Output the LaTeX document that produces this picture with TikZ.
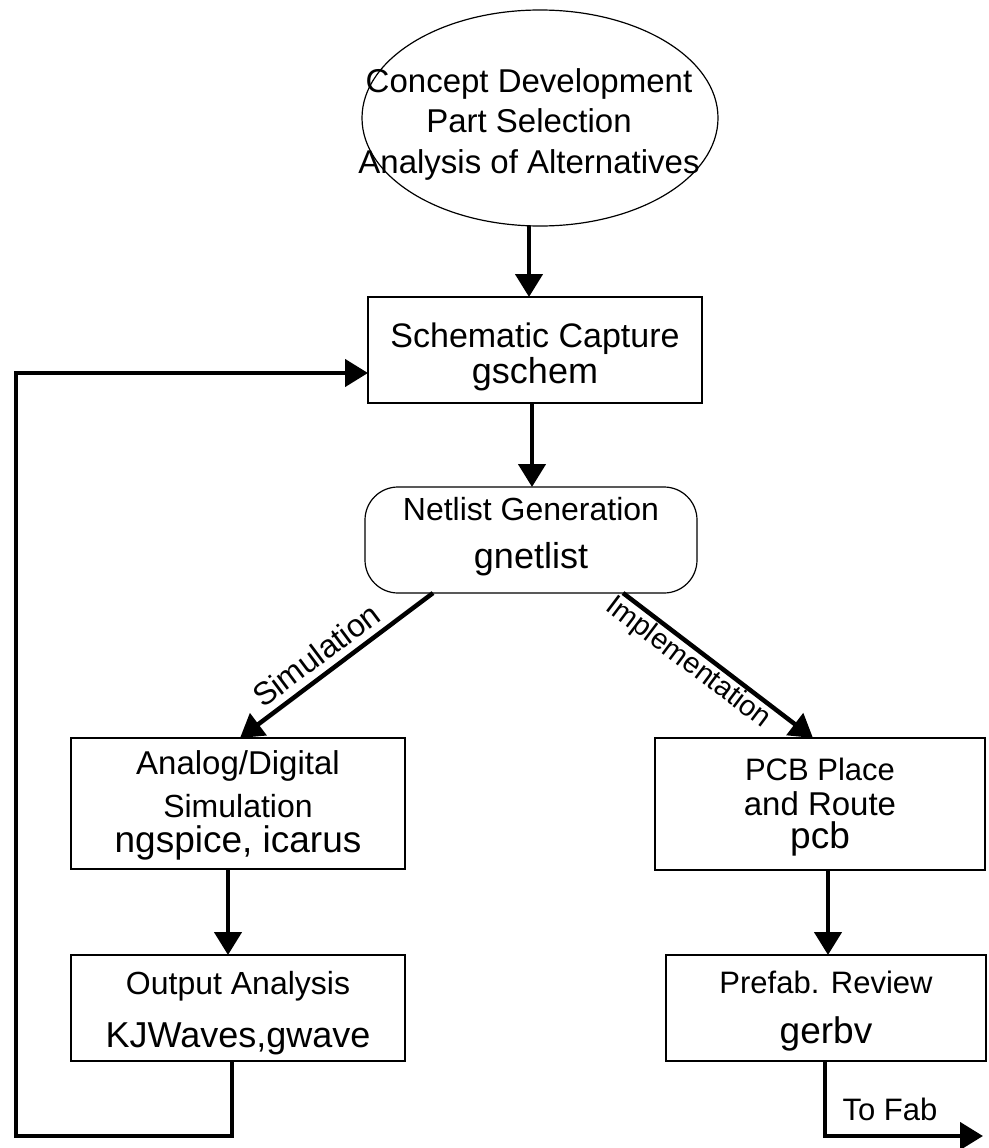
\documentclass[tikz,border=0pt]{standalone}
\usepackage{fontspec}
\setmainfont{Liberation Sans}
\usetikzlibrary{arrows.meta,shapes.geometric}
\newcommand\tightlines{\baselineskip=0pt\lineskiplimit=-1000pt\lineskip=0pt}
\newcommand\fsz[1]{\fontsize{#1}{0}\selectfont}
\newcommand\strutup[1]{\rule{0pt}{#1pt}}
\newcommand\strutdn[1]{\rule[-#1pt]{0pt}{#1pt}}
\begin{document}
\begin{tikzpicture}[x=1pt,y=-1pt,
  box/.style={draw=black, line width=1.2pt, rectangle, inner sep=0pt, outer sep=0pt,
              align=center, font=\tightlines, anchor=north west, minimum height=0pt},
  lbl/.style={inner sep=0pt, outer sep=0pt, font=\tightlines, align=center},
  conn/.style={line width=4.5pt},
  arr/.style={conn, -{Triangle[length=23pt,width=27pt]}},
]
\useasboundingbox (0,0) rectangle (988,1148);

% top ellipse
\node[draw=black, ellipse, line width=1.2pt, minimum width=356pt, minimum height=216pt,
      inner sep=0pt, outer sep=0pt] (ell) at (540,118) {};
\node[lbl] (elltxt) at ([xshift=-11pt]ell.center)
  {\strutup{39}\fsz{33}Concept Development\\[40pt]\fsz{33}Part Selection\\[41pt]\fsz{33}Analysis of Alternatives\strutdn{10}};

% boxes
\node[box, minimum width=334pt] (sch) at (368,297)
  {\strutup{50}\fsz{34}Schematic Capture\\[36pt]\fsz{36}gschem\strutdn{20}};
\node[box, rounded corners=33pt, minimum width=332pt] (net) at (365,487)
  {\strutup{33}\fsz{32}Netlist Generation\\[48pt]\fsz{36}gnetlist\strutdn{25}};
\node[box, minimum width=334pt] (ana) at (71,738)
  {\strutup{36}\fsz{33}Analog/Digital\\[43pt]\fsz{32}Simulation\\[35pt]\fsz{37}ngspice, icarus\strutdn{17}};
\node[box, minimum width=334pt] (out) at (71,955)
  {\strutup{39}\fsz{32}Output Analysis\\[53pt]\fsz{36}KJWaves,gwave\strutdn{14}};
\node[box, minimum width=330pt] (pcb) at (655,738)
  {\strutup{42}\fsz{31}PCB Place\\[35pt]\fsz{33}and Route\\[33pt]\fsz{37}pcb\strutdn{22}};
\node[box, minimum width=320pt] (pre) at (666,955)
  {\strutup{38}\fsz{31}Prefab. Review\\[50pt]\fsz{37}gerbv\strutdn{18}};

% connectors
\draw[arr] ([xshift=-11pt]ell.south) -- ([xshift=-6pt]sch.north);
\draw[arr] ([xshift=-3pt]sch.south) -- ([xshift=1pt]net.north);
\draw[arr] ([xshift=68pt]net.south west) -- ([xshift=169pt]ana.north west);
\draw[arr] ([xshift=-74pt]net.south east) -- ([xshift=158pt]pcb.north west);
\draw[arr] ([xshift=-10pt]ana.south) -- ([xshift=-10pt]out.north);
\draw[arr] ([xshift=8pt]pcb.south) -- ([xshift=2pt]pre.north);

\coordinate (loopcorner) at (16,1136);
\draw[arr, line join=miter] ([xshift=-6pt]out.south) |- (loopcorner) |- ([yshift=-23pt]sch.west);

\coordinate (fabend) at (983,1136);
\draw[arr, line join=miter] ([xshift=-1pt]pre.south) |- (fabend);

% labels
\node[lbl, rotate=36.8] (simlbl) at (316,655) {\fsz{32}Simulation};
\node[lbl, rotate=-37] (implbl) at (688,663) {\fsz{29}Implementation};
\node[lbl, anchor=base] (tofab) at (890,1120) {\fsz{31}To Fab};
\end{tikzpicture}
\end{document}
